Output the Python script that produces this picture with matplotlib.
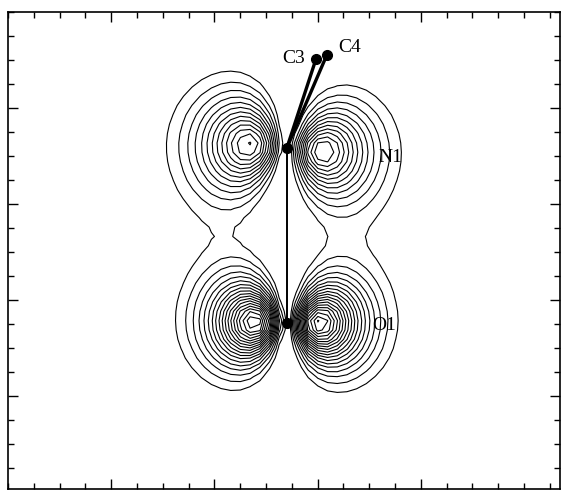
import numpy as np
import matplotlib.pyplot as plt

# atoms (plot units; x ticks every unit, y ticks every unit)
atom_names = ["N1", "O1", "C3", "C4"]
atom_x = [10.81, 10.81, 11.94, 12.36]
atom_y = [10.33, 3.04, 14.04, 14.21]

# where the atom labels sit
label_x = [14.84, 14.57, 11.09, 13.26]
label_y = [9.92, 2.92, 14.08, 14.54]

# bonds as (atom, atom, line width)
bonds = [(0, 2, 2.4), (0, 3, 2.4), (0, 1, 1.4)]

# p-type lobes on N1 and O1: amplitude, lobe radius left / right, axis tilt (deg)
orb_atom = [0, 1]
orb_amp = [1.0, 1.43]
orb_a_left = [1.58, 1.34]
orb_a_right = [1.5, 1.34]
orb_tilt = [-5.0, -1.0]
overlap = 0.34  # weight of the N1/O1 cross term

# contour levels
levels = np.arange(0.135, 1.5, 0.072)

xlim = (0, 21.4)
ylim = (-3.88, 16)
kx = 25.8 / 24.0  # one x unit is a bit wider than one y unit

# density map built from the lobes (coarse grid, like the original)
gx = np.linspace(xlim[0], xlim[1], 58)
gy = np.linspace(ylim[0], ylim[1], 52)
X, Y = np.meshgrid(gx, gy)
lobes = []
for i, at in enumerate(orb_atom):
    dx = (X - atom_x[at]) * kx
    dy = Y - atom_y[at]
    t = np.radians(orb_tilt[i])
    u = dx * np.cos(t) + dy * np.sin(t)
    r = np.hypot(dx, dy)
    a = np.where(u > 0, orb_a_right[i], orb_a_left[i])
    lobes.append(np.sqrt(orb_amp[i]) * (u / a) * np.exp(-(r - a) / a))
Z = lobes[0] ** 2 + lobes[1] ** 2 + 2 * overlap * lobes[0] * lobes[1]

fig = plt.figure(figsize=(5.61, 4.90), dpi=100)
ax = fig.add_axes([8 / 561, 1 - 489 / 490, 552 / 561, 477 / 490])

ax.contour(X, Y, Z, levels=levels, colors="k", linewidths=0.8)

# bonds and atoms
for a1, a2, lw in bonds:
    ax.plot([atom_x[a1], atom_x[a2]], [atom_y[a1], atom_y[a2]], color="k", lw=lw, solid_capstyle="round")
ax.plot(atom_x, atom_y, "o", color="k", ms=7)

for name, lx, ly in zip(atom_names, label_x, label_y):
    ax.text(lx, ly, name, fontsize=14, family="Liberation Serif", ha="center", va="center")

ax.set_xlim(*xlim)
ax.set_ylim(*ylim)
ax.set_xticks([4, 8, 12, 16])
ax.set_xticks(np.arange(0, 22, 1), minor=True)
ax.set_yticks([0, 4, 8, 12])
ax.set_yticks(np.arange(-3, 17, 1), minor=True)
ax.set_xticklabels([])
ax.set_yticklabels([])
ax.tick_params(which="both", direction="in", top=True, right=True, width=1)
ax.tick_params(which="major", length=7)
ax.tick_params(which="minor", length=4)
for s in ax.spines.values():
    s.set_linewidth(1.2)

plt.savefig("out.png")
